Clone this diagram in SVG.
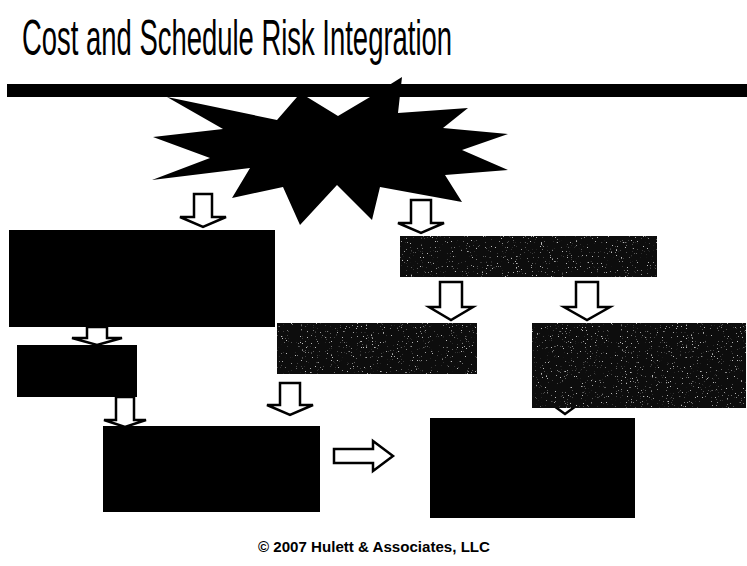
<svg xmlns="http://www.w3.org/2000/svg" width="747" height="566" viewBox="0 0 747 566">
  <style>
    .title { font-family: "Liberation Sans", Arial, sans-serif; font-size: 42px; fill: #000; }
    .copy { font-family: "Liberation Sans", Arial, sans-serif; font-size: 14.5px; font-weight: bold; fill: #000; }
    .box { fill: #000; }
    .gbox { fill: #0d0d0d; }
    .arrow { fill: #fff; stroke: #000; stroke-width: 2.5; stroke-linejoin: miter; }
  </style>
  <defs>
    <filter id="speck" x="0" y="0" width="1" height="1">
      <feTurbulence type="fractalNoise" baseFrequency="0.8" numOctaves="2" seed="7" result="n"/>
      <feColorMatrix in="n" type="matrix" values="0 0 0 0 0.5  0 0 0 0 0.5  0 0 0 0 0.5  0 0 0 10 -6.9" result="d"/>
      <feComposite in="d" in2="SourceGraphic" operator="in"/>
    </filter>
  </defs>
  <rect width="747" height="566" fill="#fff"/>
  <text class="title" transform="translate(22,55) scale(1,1.21)" x="0" y="0" textLength="430" lengthAdjust="spacingAndGlyphs">Cost and Schedule Risk Integration</text>
  <rect x="7" y="84" width="740" height="13" fill="#000"/>
  <g id="risk-burst">
    <polygon fill="#000" points="167,97 277,120 297,97 307,97 338,116 370,97 402,77 398,113 468,108 443,128 508,134 462,150 508,170 445,175 462,202 380,187 372,220 337,185 300,225 283,187 232,198 250,168 152,180 210,158 153,137 223,129"/>
  </g>
  <g id="connectors">
    <path class="arrow" d="M194,194 H212 V217 H226 L203,227 L180,217 H194 Z"/>
    <path class="arrow" d="M411,200 H431 V223 H444 L421,233 L398,223 H411 Z"/>
    <path class="arrow" d="M87,327 H107 V338 H122 L97,345 L72,338 H87 Z"/>
    <path class="arrow" d="M116,397 H134 V420 H146 L125,427 L104,420 H116 Z"/>
    <path class="arrow" d="M440,282 H462 V307 H473 L451,320 L429,307 H440 Z"/>
    <path class="arrow" d="M576,282 H598 V307 H610 L587,320 L564,307 H576 Z"/>
    <path class="arrow" d="M280,383 H300 V405 H313 L290,415 L267,405 H280 Z"/>
    <path class="arrow" d="M556,400 H574 V406 H576 L565,414 L554,406 H556 Z"/>
    <path class="arrow" d="M334,449 H373 V441 L393,456 L373,471 V463 H334 Z"/>
  </g>
  <g id="node-1"><rect class="box" x="9" y="230" width="266" height="97"/></g>
  <g id="node-2"><rect class="box" x="17" y="345" width="120" height="52"/></g>
  <g id="node-3">
    <rect class="gbox" x="400" y="236" width="257" height="41"/>
    <rect x="400" y="236" width="257" height="41" fill="#000" filter="url(#speck)"/>
  </g>
  <g id="node-4">
    <rect class="gbox" x="277" y="323" width="200" height="51"/>
    <rect x="277" y="323" width="200" height="51" fill="#000" filter="url(#speck)"/>
  </g>
  <g id="node-5">
    <rect class="gbox" x="532" y="323" width="214" height="85"/>
    <rect x="532" y="323" width="214" height="85" fill="#000" filter="url(#speck)"/>
  </g>
  <g id="node-6"><rect class="box" x="103" y="426" width="217" height="86"/></g>
  <g id="node-7"><rect class="box" x="430" y="418" width="205" height="100"/></g>
  <text class="copy" x="374" y="552" text-anchor="middle" textLength="232" lengthAdjust="spacingAndGlyphs">© 2007 Hulett &amp; Associates, LLC</text>
</svg>
